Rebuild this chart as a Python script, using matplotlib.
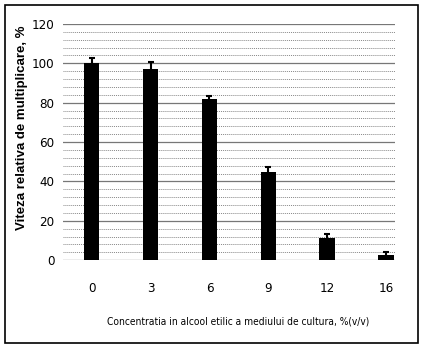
import matplotlib
matplotlib.use("Agg")
import matplotlib.pyplot as plt
from matplotlib.patches import Rectangle
from matplotlib.ticker import MultipleLocator

concentrations = ["0", "3", "6", "9", "12", "16"]
rel_rate = [100, 97, 82, 45, 11, 2.5]
rel_err = [2.5, 3.5, 1.5, 2.5, 2.5, 1.5]

narrow = ["DejaVu Sans"]

fig = plt.figure(figsize=(4.25, 3.52), dpi=100)
ax = fig.add_axes([0.148, 0.261, 0.781, 0.671])

x = list(range(len(concentrations)))
ax.bar(x, rel_rate, width=0.26, color="black", zorder=3,
       yerr=rel_err, error_kw=dict(ecolor="black", elinewidth=1.5,
                                   capsize=2.5, capthick=1.5, zorder=4))

ax.set_ylim(0, 120)
ax.set_xlim(-0.49, 5.15)
ax.yaxis.set_major_locator(MultipleLocator(20))
ax.yaxis.set_minor_locator(MultipleLocator(4))
ax.grid(axis="y", which="major", color="#777777", linewidth=0.9, zorder=1)
ax.grid(axis="y", which="minor", color="#888888", linewidth=0.7,
        linestyle=(0, (1, 1.0)), zorder=1)
for s in ax.spines.values():
    s.set_visible(False)

ax.set_xticks(x)
ax.set_xticklabels(concentrations, fontfamily=narrow, fontsize=9.5,
                   fontstretch="condensed")
ax.tick_params(axis="x", length=0, pad=16)
ax.tick_params(axis="y", which="both", length=0, pad=6)
for lbl in ax.get_yticklabels():
    lbl.set_fontfamily(narrow)
    lbl.set_fontsize(9.5)
    lbl.set_fontstretch("condensed")

ax.set_ylabel("Viteza relativa de multiplicare, %", fontsize=9.5,
              fontweight="bold", fontfamily=["Liberation Sans", "DejaVu Sans"])
ax.yaxis.set_label_coords(-0.105, 0.56)
ax.set_xlabel("Concentratia in alcool etilic a mediului de cultura, %(v/v)",
              fontsize=7.3, fontfamily=narrow, fontstretch="condensed")
ax.xaxis.set_label_coords(0.527, -0.24)

fig.patches.append(Rectangle((0.012, 0.025), 0.972, 0.96,
                             transform=fig.transFigure, fill=False,
                             edgecolor="black", linewidth=1.2))

fig.savefig("out.png", dpi=100)
